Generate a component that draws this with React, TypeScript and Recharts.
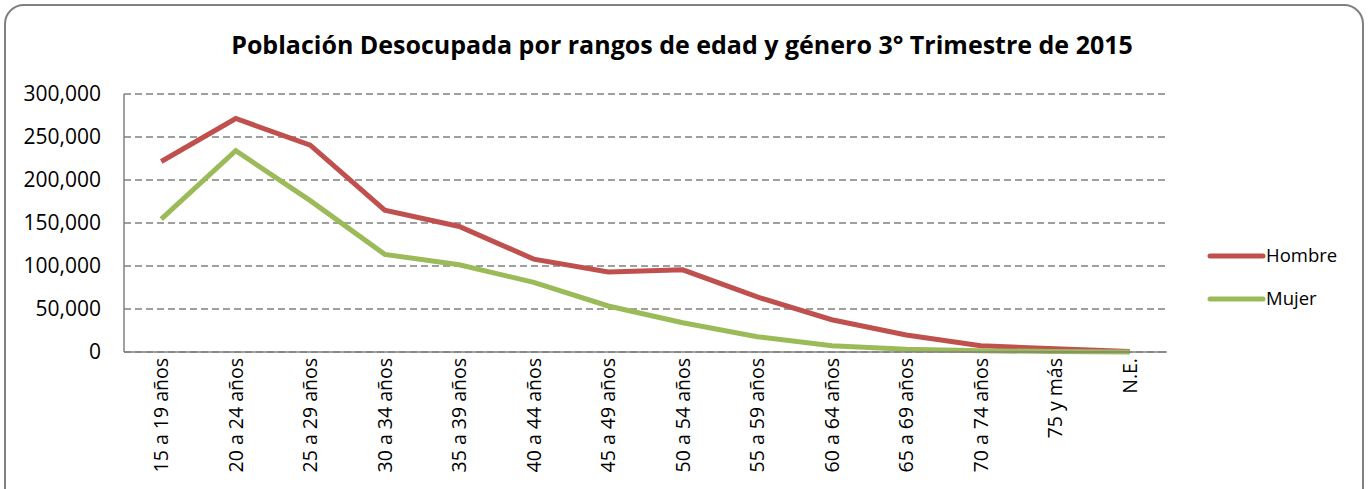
import React from "react";
import { LineChart, Line, XAxis, YAxis, CartesianGrid } from "recharts";

const categories = [
  "15 a 19 años",
  "20 a 24 años",
  "25 a 29 años",
  "30 a 34 años",
  "35 a 39 años",
  "40 a 44 años",
  "45 a 49 años",
  "50 a 54 años",
  "55 a 59 años",
  "60 a 64 años",
  "65 a 69 años",
  "70 a 74 años",
  "75 y más",
  "N.E.",
];

const hombre = [221500, 271500, 240500, 165000, 146000, 108000, 93000, 95500, 64000, 37500, 19800, 7200, 3800, 500];
const mujer = [154500, 234000, 176000, 113500, 101500, 81000, 53500, 34000, 17800, 7300, 3200, 1400, 600, 100];

const yTicks = [0, 50000, 100000, 150000, 200000, 250000, 300000];

const series = [
  { key: "Hombre", color: "#C0504D" },
  { key: "Mujer", color: "#9BBB59" },
];

const data = categories.map((cat, i) => ({ cat, Hombre: hombre[i], Mujer: mujer[i] }));

const FONT = "'Open Sans', sans-serif";
const GRAY = "#808080";

const fmt = (v: number) => v.toLocaleString("en-US");

function XTick(props: any) {
  const { x, y, payload } = props;
  return (
    <text
      x={0}
      y={0}
      transform={`translate(${x},${y - 2}) rotate(-90)`}
      textAnchor="end"
      dy="0.35em"
      fontSize={19.5}
      fontFamily={FONT}
      fill="#000"
    >
      {payload.value}
    </text>
  );
}

export default function App() {
  return (
    <div style={{ position: "absolute", left: 0, top: 0, width: 1370, height: 489, background: "#fff", overflow: "hidden" }}>
      <div
        style={{
          position: "absolute",
          left: 4,
          top: 4,
          width: 1356,
          height: 520,
          border: `2px solid ${GRAY}`,
          borderRadius: 20,
        }}
      />
      <div
        style={{
          position: "absolute",
          left: 0,
          width: 1364,
          top: 27,
          textAlign: "center",
          fontFamily: FONT,
          fontWeight: 700,
          fontSize: 25,
          lineHeight: "34px",
          color: "#000",
        }}
      >
        Población Desocupada por rangos de edad y género 3° Trimestre de 2015
      </div>
      <svg style={{ position: "absolute", left: 1198, top: 240 }} width={170} height={80}>
        {series.map((s, i) => (
          <g key={s.key} transform={`translate(0, ${i * 43})`}>
            <line x1={12} y1={16} x2={65} y2={16} stroke={s.color} strokeWidth={5} strokeLinecap="round" />
            <text x={68} y={16} dy="0.35em" fontSize={18.5} fontFamily={FONT} fill="#000">
              {s.key}
            </text>
          </g>
        ))}
      </svg>
      <div style={{ position: "absolute", left: 0, top: 0 }}>
        <LineChart width={1370} height={489} data={data} margin={{ top: 94, right: 203, bottom: 0, left: 0 }}>
          <CartesianGrid vertical={false} stroke={GRAY} strokeDasharray="7 4" strokeWidth={1.5} />
          <XAxis
            dataKey="cat"
            interval={0}
            height={137}
            padding={{ left: 37.25, right: 37.25 }}
            tickLine={false}
            axisLine={{ stroke: GRAY, strokeWidth: 1.5 }}
            tick={<XTick />}
          />
          <YAxis
            width={124}
            domain={[0, 300000]}
            ticks={yTicks}
            tickFormatter={fmt}
            tickLine={false}
            tickMargin={17}
            axisLine={{ stroke: GRAY, strokeWidth: 1.5 }}
            tick={{ fontSize: 21, fill: "#000", fontFamily: FONT }}
          />
          {series.map((s) => (
            <Line key={s.key} dataKey={s.key} stroke={s.color} strokeWidth={5} dot={false} isAnimationActive={false} />
          ))}
        </LineChart>
      </div>
    </div>
  );
}
